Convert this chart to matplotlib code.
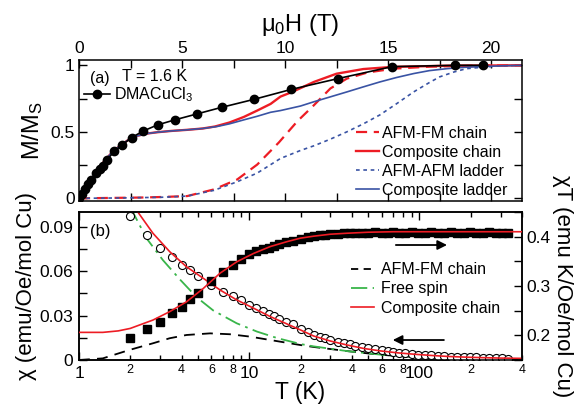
import matplotlib
matplotlib.use("Agg")
import matplotlib.pyplot as plt
from matplotlib.ticker import MultipleLocator, FuncFormatter, FixedLocator
from matplotlib.lines import Line2D

plt.rcParams['font.family'] = ['Liberation Sans', 'DejaVu Sans']
plt.rcParams['mathtext.fontset'] = 'custom'
plt.rcParams['mathtext.rm'] = 'Liberation Sans'
plt.rcParams['mathtext.it'] = 'Liberation Sans:italic'

RED = '#ed1c24'
BLUE = '#3953a4'
GREEN = '#39b54a'

# ---------------- panel (a): M/Ms vs field ----------------
H_data = [0, 0.15, 0.3, 0.45, 0.6, 0.82, 1.0, 1.15, 1.36, 1.71, 2.11, 2.55, 3.13, 3.81,
          4.65, 5.71, 6.92, 8.49, 10.3, 12.56, 15.19, 18.26, 19.6]
M_data = [0, 0.035, 0.07, 0.105, 0.14, 0.19, 0.222, 0.245, 0.29, 0.353, 0.403, 0.457, 0.507, 0.552,
          0.59, 0.634, 0.684, 0.744, 0.819, 0.90, 0.99, 1.0, 1.0]

H_afmfm = [0, 1, 2, 3, 4, 5.25, 6.55, 7.68, 8.65, 9.7, 10.6, 11.4, 12.2, 13.0, 14.0, 15.27,
           17.05, 19.0, 21.5]
M_afmfm = [0, 0.002, 0.004, 0.006, 0.01, 0.017, 0.067, 0.142, 0.254, 0.42, 0.58, 0.70, 0.826,
           0.90, 0.946, 0.975, 0.99, 0.997, 1.0]

H_comp_chain = [0, 0.4, 0.8, 1.21, 1.6, 2.02, 2.4, 2.83, 3.3, 3.8, 4.5, 5.25, 6.0, 6.6, 7.3,
                8.0, 8.65, 9.3, 9.78, 10.35, 11.4, 12.5, 13.8, 15.2, 17.85, 21.5]
M_comp_chain = [0, 0.085, 0.175, 0.278, 0.345, 0.40, 0.44, 0.47, 0.487, 0.497, 0.507, 0.515,
                0.525, 0.54, 0.57, 0.612, 0.66, 0.71, 0.765, 0.80, 0.875, 0.937, 0.972, 0.988,
                0.997, 1.0]

H_afmafm = [0, 2, 4, 5.25, 6.55, 7.68, 8.65, 9.78, 10.75, 11.4, 12.2, 13.0, 13.8, 14.6, 15.4,
            16.24, 17.0, 17.5, 18.2, 18.8, 20.3, 21.5]
M_afmafm = [0, 0.003, 0.008, 0.017, 0.06, 0.125, 0.19, 0.30, 0.36, 0.395, 0.445, 0.50, 0.56,
            0.627, 0.71, 0.80, 0.87, 0.913, 0.95, 0.975, 0.995, 1.0]

H_comp_ladder = [0, 0.4, 0.8, 1.21, 1.6, 2.02, 2.4, 2.83, 3.3, 3.8, 4.5, 5.25, 6.0, 6.7, 7.3,
                 8.0, 8.65, 9.3, 9.78, 10.75, 11.4, 12.2, 13.0, 13.8, 14.6, 15.4, 16.24, 17.0,
                 17.86, 18.7, 19.5, 20.5, 21.5]
M_comp_ladder = [0, 0.085, 0.175, 0.278, 0.345, 0.40, 0.44, 0.47, 0.487, 0.497, 0.507, 0.515,
                 0.525, 0.54, 0.56, 0.59, 0.617, 0.647, 0.66, 0.694, 0.726, 0.763, 0.80, 0.838,
                 0.875, 0.908, 0.938, 0.96, 0.975, 0.985, 0.99, 0.996, 1.0]

# ---------------- panel (b): susceptibility vs temperature ----------------
T_exp = [2, 2.5, 3, 3.5, 4, 4.5, 5, 6, 7, 8, 9, 10, 11, 12, 13, 14, 15, 16.5, 18, 20, 22, 24,
         26, 28, 30, 33, 36, 39, 42, 46, 50, 55, 60, 65, 70, 76, 82, 90, 98, 107, 117, 128,
         140, 153, 167, 182, 198, 215, 235, 255, 280, 305, 330]
chi_exp = [0.097, 0.0845, 0.076, 0.0694, 0.064, 0.0605, 0.057, 0.0508, 0.046, 0.0435, 0.0406,
           0.0375, 0.035, 0.033, 0.031, 0.0295, 0.028, 0.0258, 0.024, 0.021, 0.019, 0.0172,
           0.0158, 0.0146, 0.0136, 0.0124, 0.0114, 0.0105, 0.0097, 0.0088, 0.008, 0.0072,
           0.0066, 0.006, 0.0055, 0.005, 0.0046, 0.0041, 0.0037, 0.0034, 0.0031, 0.0028,
           0.0024, 0.0022, 0.0021, 0.0019, 0.0018, 0.0017, 0.0015, 0.0014, 0.0012, 0.0011,
           0.0010]
chiT_exp = [0.195, 0.212, 0.228, 0.245, 0.258, 0.274, 0.285, 0.310, 0.329, 0.343, 0.355, 0.365,
            0.370, 0.374, 0.378, 0.381, 0.385, 0.389, 0.392, 0.396, 0.399, 0.401, 0.403, 0.404,
            0.405, 0.406, 0.407, 0.408, 0.408, 0.408, 0.408, 0.409, 0.408, 0.408, 0.409, 0.408,
            0.408, 0.409, 0.408, 0.408, 0.409, 0.408, 0.408, 0.409, 0.408, 0.408, 0.409, 0.408,
            0.408, 0.409, 0.408, 0.408, 0.408]

T_fit_chi = [2.1, 2.2, 2.72, 3.41, 4.28, 5.37, 6.74, 8.44, 10.6, 13.3, 16.7, 20, 23.9, 30, 37.7,
             47, 59.3, 75, 93, 120, 147, 190, 231, 300, 400]
chi_fit = [0.106, 0.1005, 0.0856, 0.0732, 0.063, 0.0552, 0.0473, 0.0406, 0.035, 0.0293, 0.0243,
           0.0203, 0.0162, 0.0128, 0.0101, 0.0078, 0.0061, 0.0048, 0.0039, 0.003, 0.0024,
           0.0019, 0.0016, 0.0013, 0.0011]

T_fit_chiT = [1, 1.38, 1.7, 2, 2.72, 3.41, 4.28, 5.37, 6.74, 8.44, 10.6, 13.3, 16.7, 20, 23.9,
              30, 37.7, 50, 70, 100, 200, 400]
chiT_fit = [0.206, 0.206, 0.209, 0.214, 0.231, 0.248, 0.268, 0.295, 0.326, 0.349, 0.366, 0.380,
            0.390, 0.397, 0.401, 0.405, 0.407, 0.409, 0.41, 0.41, 0.41, 0.41]

T_afmfm = [1, 1.38, 1.98, 2.72, 3.41, 4.28, 5.89, 7.7, 10.1, 13.3, 20, 23.9, 37.7, 59.3, 93,
           150, 250, 400]
chi_afmfm = [0.0, 0.0011, 0.0068, 0.0113, 0.0147, 0.0169, 0.018, 0.0174, 0.0158, 0.0135, 0.0101,
             0.0088, 0.006, 0.0035, 0.0021, 0.0014, 0.0009, 0.0006]

T_free = [2.0, 2.07, 2.49, 3.11, 3.91, 4.9, 6.14, 8.44, 11.1, 14.6, 20, 23.9, 37.7, 59.3, 93,
          150, 250, 400]
chi_free = [0.104, 0.1, 0.0823, 0.0675, 0.0545, 0.0425, 0.0335, 0.0248, 0.0192, 0.0148, 0.0108,
            0.0092, 0.006, 0.0036, 0.0022, 0.0014, 0.0009, 0.0005]

fig = plt.figure(figsize=(5.74, 4.13), dpi=100)
W, Hf = 574.0, 413.0
L, R = 79, 522
ax1 = fig.add_axes([L / W, 1 - 201 / Hf, (R - L) / W, (201 - 60) / Hf])
ax2 = fig.add_axes([L / W, 1 - 360 / Hf, (R - L) / W, (360 - 212) / Hf])

TICKFS = 12.5
for ax in (ax1, ax2):
    for s in ax.spines.values():
        s.set_linewidth(1.1)

# ---- panel (a)
ax1.plot(H_afmfm, M_afmfm, color=RED, lw=1.6, ls=(0, (5, 3)), label='AFM-FM chain')
ax1.plot(H_afmafm, M_afmafm, color=BLUE, lw=1.2, ls=(0, (2.2, 2.2)), label='AFM-AFM ladder')
ax1.plot(H_comp_chain, M_comp_chain, color=RED, lw=1.7, label='Composite chain')
ax1.plot(H_comp_ladder, M_comp_ladder, color=BLUE, lw=1.2, label='Composite ladder')
dm, = ax1.plot(H_data, M_data, color='black', lw=1.2, marker='o', ms=6, mfc='black',
               mec='black', label='DMACuCl$_\\mathregular{3}$')

ax1.set_xlim(0, 21.5)
ax1.set_ylim(-0.02, 1.04)
ax1.xaxis.set_major_locator(MultipleLocator(2.5))
ax1.xaxis.set_major_formatter(FuncFormatter(lambda v, p: ('%d' % round(v)) if abs(v / 5 - round(v / 5)) < 1e-6 else ''))
ax1.yaxis.set_major_locator(MultipleLocator(0.25))
ax1.yaxis.set_major_formatter(FuncFormatter(lambda v, p: {0: '0', 0.5: '0.5', 1.0: '1'}.get(round(v, 2), '')))
ax1.tick_params(which='both', direction='in', top=True, bottom=True, left=True, right=True,
                labeltop=True, labelbottom=False, length=6, width=1.0, labelsize=TICKFS, pad=3)
ax1.xaxis.set_label_position('top')
ax1.set_xlabel('μ$_\\mathregular{0}$H (T)', fontsize=17, labelpad=7)
ax1.set_ylabel('M/M$_\\mathregular{S}$', fontsize=17, labelpad=4)

ax1.text(0.025, 0.866, '(a)', transform=ax1.transAxes, fontsize=11.5, va='center', ha='left')
ax1.text(0.097, 0.885, 'T = 1.6 K', transform=ax1.transAxes, fontsize=11.5, va='center', ha='left')

leg_dm = ax1.legend(handles=[dm], loc='center left', bbox_to_anchor=(0.012, 0.755),
                    frameon=False, fontsize=11.5, handlelength=1.6, handletextpad=0.25,
                    borderpad=0, borderaxespad=0, numpoints=1)
ax1.add_artist(leg_dm)
h = ax1.get_lines()
ax1.legend(handles=[h[0], h[2], h[1], h[3]], loc='upper left', bbox_to_anchor=(0.626, 0.535),
           frameon=False, fontsize=11.5, handlelength=1.45, handletextpad=0.15,
           labelspacing=0.26, borderpad=0, borderaxespad=0)

# ---- panel (b)
ax2r = ax2.twinx()
for s in ax2r.spines.values():
    s.set_linewidth(1.1)

ax2.plot(T_afmfm, chi_afmfm, color='black', lw=1.3, ls=(0, (6, 4)), label='AFM-FM chain')
ax2.plot(T_free, chi_free, color=GREEN, lw=1.3, ls=(0, (9, 3, 1.5, 3)), label='Free spin')
ax2.plot(T_fit_chi, chi_fit, color=RED, lw=1.2, zorder=4, label='Composite chain')
ax2.plot(T_exp, chi_exp, ls='none', marker='o', ms=5.8, mfc='white', mec='black', mew=0.8,
         zorder=3)
ax2r.plot(T_exp, chiT_exp, ls='none', marker='s', ms=6.2, mfc='black', mec='black', zorder=3)
ax2r.plot(T_fit_chiT, chiT_fit, color=RED, lw=1.2, zorder=4)

ax2.set_xscale('log')
ax2.set_xlim(1, 400)
ax2.set_ylim(0, 0.1)
ax2r.set_ylim(0.15, 0.45)

ax2.xaxis.set_major_locator(FixedLocator([1, 10, 100]))
ax2.xaxis.set_major_formatter(FuncFormatter(lambda v, p: '%d' % round(v)))
minor_pos = [2, 3, 4, 5, 6, 7, 8, 9, 20, 30, 40, 50, 60, 70, 80, 90, 200, 300, 400]
ax2.xaxis.set_minor_locator(FixedLocator(minor_pos))
lab_digits = {2: '2', 4: '4', 6: '6', 8: '8'}
def minor_fmt(v, p):
    import math
    m = v / 10 ** math.floor(math.log10(v) + 1e-9)
    return lab_digits.get(int(round(m)), '')
ax2.xaxis.set_minor_formatter(FuncFormatter(minor_fmt))
ax2.yaxis.set_major_locator(MultipleLocator(0.015))
ax2.yaxis.set_major_formatter(FuncFormatter(lambda v, p: {0: '0', 0.03: '0.03', 0.06: '0.06', 0.09: '0.09'}.get(round(v, 3), '')))
ax2r.yaxis.set_major_locator(MultipleLocator(0.05))
ax2r.yaxis.set_major_formatter(FuncFormatter(lambda v, p: {0.2: '0.2', 0.3: '0.3', 0.4: '0.4'}.get(round(v, 2), '')))

ax2.tick_params(which='major', direction='in', top=True, bottom=True, left=True, right=False,
                length=6, width=1.0, labelsize=TICKFS, pad=4)
ax2.tick_params(axis='x', which='minor', direction='in', top=True, bottom=True, length=3.5,
                width=1.0, labelsize=9, pad=3)
ax2r.tick_params(which='major', direction='in', right=True, length=6, width=1.0,
                 labelsize=TICKFS, pad=3)

ax2.set_xlabel('T (K)', fontsize=16.5, labelpad=0)
ax2.set_ylabel('χ (emu/Oe/mol Cu)', fontsize=16, labelpad=2)
ax2r.set_ylabel('χT (emu K/Oe/mol Cu)', fontsize=16, rotation=270, labelpad=16)

ax2.text(0.025, 0.867, '(b)', transform=ax2.transAxes, fontsize=12, va='center', ha='left')

ax2.annotate('', xy=(0.837, 0.777), xytext=(0.709, 0.777), xycoords='axes fraction',
             arrowprops=dict(arrowstyle='-|>', color='black', lw=1.3, mutation_scale=14))
ax2.annotate('', xy=(0.702, 0.135), xytext=(0.830, 0.135), xycoords='axes fraction',
             arrowprops=dict(arrowstyle='-|>', color='black', lw=1.3, mutation_scale=14))

lh = [Line2D([], [], color='black', lw=1.3, ls=(0, (4, 3))),
      Line2D([], [], color=GREEN, lw=1.3, ls=(0, (9, 3, 1.5, 3))),
      Line2D([], [], color=RED, lw=1.2)]
ax2r.legend(lh, ['AFM-FM chain', 'Free spin', 'Composite chain'], loc='upper left',
            bbox_to_anchor=(0.615, 0.66), frameon=False, fontsize=11.5, handlelength=1.4,
            handletextpad=0.45, labelspacing=0.26, borderpad=0, borderaxespad=0)

fig.savefig('out.png', dpi=100)
